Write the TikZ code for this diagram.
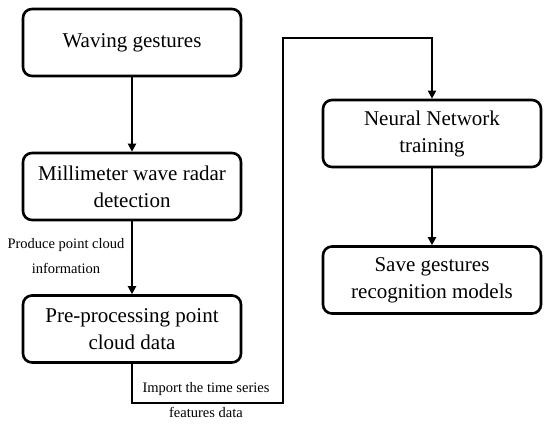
\documentclass[tikz,border=0pt]{standalone}
\usepackage{fontspec}
\setmainfont{Liberation Serif}
\usetikzlibrary{arrows.meta,positioning}
\begin{document}
\begin{tikzpicture}[x=1pt,y=-1pt,
  stepbox/.style={draw,line width=2.6pt,rounded corners=9pt,minimum width=218pt,minimum height=67pt,align=center,font=\fontsize{21}{27}\selectfont,inner sep=2pt},
  conn/.style={line width=2.6pt,-{Triangle[length=8pt,width=8pt]}},
  lbl/.style={align=center,font=\fontsize{14.5}{25}\selectfont,inner sep=0pt}]
\useasboundingbox (0,0) rectangle (550,429);
\node[stepbox] (b1) at (132,42.5) {Waving gestures};
\node[stepbox] (b2) at (132,186.5) {Millimeter wave radar\\detection};
\node[stepbox] (b3) at (132,329) {Pre-processing point\\cloud data};
\node[stepbox] (b4) at (432,133.5) {Neural Network\\training};
\node[stepbox] (b5) at (432,280) {Save gestures\\recognition models};
\coordinate (c1) at (132,403);
\coordinate (c2) at (283,403);
\coordinate (c3) at (283,38);
\coordinate (c4) at (432,38);
\draw[conn] (b1) -- (b2);
\draw[conn] (b2) -- (b3);
\draw[conn] (b3.south) -- (c1) -- (c2) -- (c3) -- (c4) -- (b4.north);
\draw[conn] (b4) -- (b5);
\node[lbl] (l1) at (66,256) {Produce point cloud\\information};
\node[lbl] (l2) at (206,400) {Import the time series\\features data};
\end{tikzpicture}
\end{document}
